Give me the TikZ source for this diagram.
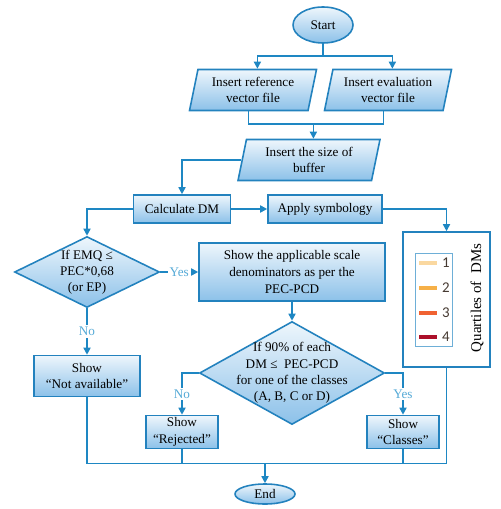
\documentclass[tikz,border=0pt]{standalone}
\usepackage{fontspec}
\setmainfont{Liberation Serif}
\newfontfamily\keyfont{Carlito}
\usetikzlibrary{arrows.meta,shapes.geometric,calc}
\definecolor{flow}{RGB}{30,135,195}
\definecolor{edgeblue}{RGB}{35,130,190}
\definecolor{shadetop}{RGB}{238,246,252}
\definecolor{shadebot}{RGB}{140,193,233}
\definecolor{answer}{RGB}{85,170,215}
\definecolor{keyedge}{RGB}{110,175,215}
\definecolor{qone}{RGB}{250,216,160}
\definecolor{qtwo}{RGB}{246,176,72}
\definecolor{qthree}{RGB}{240,98,50}
\definecolor{qfour}{RGB}{172,16,42}
\definecolor{numgray}{RGB}{70,58,50}

\begin{document}
\begin{tikzpicture}[x=0.02cm,y=-0.02cm,
  >={Triangle[length=4pt,width=4pt]},
  blk/.style={draw=edgeblue,line width=0.9pt,top color=shadetop,bottom color=shadebot,
    font=\fontsize{7.5}{9.4}\selectfont,align=center,inner sep=1pt},
  proc/.style={blk,rectangle},
  io/.style={blk,trapezium,trapezium left angle=74,trapezium right angle=106,
    trapezium stretches body=true,minimum height=0.82cm},
  term/.style={blk,ellipse,inner sep=0pt},
  dec/.style={blk,diamond,inner sep=0pt},
  dectext/.style={font=\fontsize{7.5}{9.2}\selectfont,align=center,inner sep=0pt},
  line/.style={flow,line width=0.9pt},
  arr/.style={line,->},
  ans/.style={font=\fontsize{7.5}{9}\selectfont,text=answer,fill=white,inner sep=1pt},
  legbox/.style={rectangle,draw=edgeblue,line width=0.9pt,fill=white},
  keybox/.style={rectangle,draw=keyedge,line width=0.5pt,fill=white},
  swatch/.style={rectangle,minimum width=0.36cm,minimum height=0.09cm,inner sep=0pt},
  keynum/.style={font=\keyfont\fontsize{8.5}{9}\selectfont,text=numgray,inner sep=0pt}
]
\newcommand{\keyentry}[4]{\node[swatch,fill=#3] (q#1) at (428,#2) {};\node[keynum] (k#1) at (446,#2) {#4};}
\useasboundingbox (0,0) rectangle (500,509);
% ================= inputs =================
\node[term,minimum width=1.2cm,minimum height=0.72cm] (start) at (323,25) {Start};
\node[io,minimum width=2.54cm] (ref) at (253,90) {Insert reference\\vector file};
\node[io,minimum width=2.54cm] (eval) at (388,90) {Insert evaluation\\vector file};
\node[io,minimum width=2.84cm] (buf) at (309,160) {Insert the size of\\buffer};
% ================= processing =================
\node[proc,minimum width=1.94cm,minimum height=0.56cm] (calc) at (182,209) {Calculate DM};
\node[proc,minimum width=2.28cm,minimum height=0.56cm] (symb) at (325,209) {Apply symbology};
\node[dec,minimum width=2.9cm,minimum height=1.42cm,
  label={[dectext]center:{If EMQ ≤\\PEC*0,68\\(or EP)}}] (emq) at (87,272) {};
\node[proc,minimum width=3.72cm,minimum height=1.16cm] (scale) at (292,272)
  {Show the applicable scale\\denominators as per the\\PEC-PCD};
\node[proc,minimum width=2.12cm,minimum height=0.82cm] (navail) at (87,376) {Show\\“Not available”};
\node[dec,minimum width=3.7cm,minimum height=2.06cm,
  label={[dectext]center:{If 90\% of each\\DM ≤~ PEC-PCD\\for one of the classes\\(A, B, C or D)}}] (pct) at (292,373) {};
\node[proc,minimum width=1.44cm,minimum height=0.66cm] (rej) at (182,432) {Show\\“Rejected”};
\node[proc,minimum width=1.44cm,minimum height=0.66cm] (cls) at (403,432) {Show\\“Classes”};
\node[term,minimum width=1.2cm,minimum height=0.4cm] (end) at (265,494) {End};
% ================= legend =================
\node[legbox,minimum width=1.74cm,minimum height=2.7cm] (legend) at (446.5,299.5) {};
\node[keybox,minimum width=0.74cm,minimum height=1.86cm] (keys) at (433.5,299.5) {};
\keyentry{1}{263}{qone}{1}
\keyentry{2}{288}{qtwo}{2}
\keyentry{3}{313}{qthree}{3}
\keyentry{4}{337}{qfour}{4}
\node[rotate=90,font=\fontsize{8.5}{9}\selectfont] (qtitle) at (477,298) {Quartiles of\ \ DMs};
% ================= connectors =================
\draw[line] (start.south) -- ++(0,12) coordinate (split);
\draw[arr] (split) -| (ref.top side);
\draw[arr] (split) -| (eval.top side);
\draw[line] (ref.bottom side) -- ++(0,13) coordinate (merge) -| (eval.bottom side);
\draw[arr] (buf.top side |- merge) -- (buf.top side);
\draw[arr] (buf.left side) -| (calc.north);
\draw[arr] (calc) -- (symb);
\draw[arr] (calc.west) -| (emq.north);
\draw[arr] (symb.east) -| (legend.north);
\draw[arr] (emq.east) -- node[ans]{Yes} (scale.west);
\draw[arr] (emq.south) -- node[ans]{No} (navail.north);
\draw[arr] (scale.south) -- (pct.north);
\draw[arr] (pct.west) -| node[ans,pos=0.75]{No} (rej.north);
\draw[arr] (pct.east) -| node[ans,pos=0.75]{Yes} (cls.north);
\draw[line] (navail.south) -- ++(0,66) coordinate (join) -| (legend.south);
\draw[line] (rej.south) -- (rej.south |- join);
\draw[line] (cls.south) -- (cls.south |- join);
\draw[arr] (end.north |- join) -- (end.north);
\end{tikzpicture}
\end{document}
